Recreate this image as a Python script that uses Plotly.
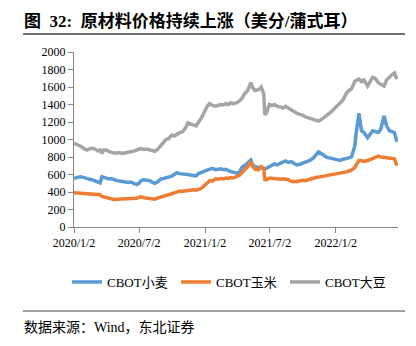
import plotly.graph_objects as go

dates = [
    "2020-01-02","2020-01-08","2020-01-15","2020-01-22",
    "2020-02-01","2020-02-08","2020-02-15","2020-02-22",
    "2020-03-01","2020-03-08","2020-03-15","2020-03-20","2020-03-25",
    "2020-04-01","2020-04-08","2020-04-15","2020-04-22",
    "2020-05-01","2020-05-08","2020-05-15","2020-05-22",
    "2020-06-01","2020-06-08","2020-06-15","2020-06-25",
    "2020-07-01","2020-07-08","2020-07-15","2020-07-22",
    "2020-08-01","2020-08-08","2020-08-15","2020-08-22",
    "2020-09-01","2020-09-08","2020-09-15","2020-09-22",
    "2020-10-01","2020-10-08","2020-10-15","2020-10-22",
    "2020-11-01","2020-11-08","2020-11-15","2020-11-22",
    "2020-12-01","2020-12-08","2020-12-15","2020-12-22",
    "2021-01-02","2021-01-08","2021-01-15","2021-01-22",
    "2021-02-01","2021-02-08","2021-02-15","2021-02-22",
    "2021-03-01","2021-03-08","2021-03-15","2021-03-22",
    "2021-04-01","2021-04-08","2021-04-15","2021-04-22",
    "2021-05-01","2021-05-10","2021-05-15","2021-05-22",
    "2021-06-01","2021-06-08","2021-06-15","2021-06-18","2021-06-22",
    "2021-07-01","2021-07-08","2021-07-15","2021-07-22",
    "2021-08-01","2021-08-08","2021-08-15","2021-08-22",
    "2021-09-01","2021-09-08","2021-09-15","2021-09-22",
    "2021-10-01","2021-10-08","2021-10-15","2021-10-22",
    "2021-11-01","2021-11-08","2021-11-15","2021-11-22",
    "2021-12-01","2021-12-08","2021-12-15","2021-12-22",
    "2022-01-02","2022-01-08","2022-01-15","2022-01-22",
    "2022-02-01","2022-02-08","2022-02-15","2022-02-24",
    "2022-03-01","2022-03-08","2022-03-15","2022-03-22",
    "2022-04-01","2022-04-08","2022-04-15","2022-04-22",
    "2022-05-01","2022-05-08","2022-05-17","2022-05-24",
    "2022-06-01","2022-06-08","2022-06-15","2022-06-22",
]

wheat = [
    556, 565, 570, 575,
    560, 550, 545, 540,
    525, 520, 505, 575, 570,
    560, 550, 555, 540,
    530, 525, 520, 515,
    510, 515, 500, 485,
    500, 530, 540, 535,
    530, 510, 500, 515,
    550, 555, 560, 570,
    580, 600, 620, 610,
    610, 605, 600, 595,
    590, 585, 610, 625,
    640, 650, 665, 670,
    655, 660, 665, 655,
    660, 645, 630, 625,
    615, 630, 680, 700,
    730, 765, 710, 690,
    680, 670, 660, 665, 670,
    690, 700, 720, 710,
    730, 745, 755, 740,
    745, 725, 710, 715,
    730, 740, 750, 760,
    790, 820, 860, 840,
    810, 795, 790, 785,
    770, 765, 760, 775,
    780, 790, 800, 920,
    1100, 1300, 1100, 1080,
    1020, 1060, 1100, 1090,
    1080, 1120, 1270, 1160,
    1100, 1090, 1080, 975,
]

corn = [
    392, 390, 388, 386,
    382, 384, 380, 378,
    375, 372, 370, 350, 345,
    335, 330, 325, 315,
    318, 320, 318, 320,
    322, 325, 330, 328,
    340, 345, 335, 330,
    320, 315, 318, 330,
    345, 355, 365, 370,
    380, 390, 400, 410,
    410, 415, 420, 425,
    425, 420, 430, 440,
    480, 500, 530, 525,
    550, 545, 555, 550,
    560, 555, 565, 560,
    580, 590, 620, 650,
    690, 745, 690, 660,
    655, 690, 670, 545, 540,
    560, 555, 550, 545,
    545, 550, 550, 540,
    520, 515, 520, 525,
    535, 530, 540, 545,
    560, 565, 570, 575,
    580, 585, 595, 600,
    610, 605, 620, 625,
    630, 640, 650, 680,
    710, 760, 760, 750,
    760, 770, 790, 800,
    810, 800, 795, 790,
    780, 785, 780, 700,
]

soy = [
    955, 945, 935, 920,
    890, 880, 895, 900,
    890, 870, 880, 840, 880,
    880, 865, 850, 845,
    845, 850, 840, 845,
    845, 860, 865, 880,
    890, 895, 885, 890,
    880, 870, 865, 885,
    930, 960, 1000, 1010,
    1050, 1040, 1060, 1075,
    1090, 1130, 1190, 1180,
    1160, 1155, 1200, 1240,
    1330, 1380, 1410, 1390,
    1380, 1390, 1400, 1395,
    1410, 1400, 1420, 1410,
    1420, 1440, 1470, 1520,
    1560, 1650, 1590, 1560,
    1570, 1600, 1520, 1280, 1300,
    1400, 1390, 1400, 1380,
    1370, 1360, 1380, 1360,
    1340, 1320, 1300, 1290,
    1280, 1260, 1250, 1240,
    1230, 1220, 1210, 1225,
    1250, 1270, 1290, 1320,
    1370, 1390, 1420, 1450,
    1530, 1560, 1580, 1660,
    1680, 1690, 1660, 1680,
    1610, 1660, 1710, 1700,
    1650, 1630, 1610, 1680,
    1720, 1740, 1760, 1690,
]

series_names = ["CBOT小麦", "CBOT玉米", "CBOT大豆"]
series_colors = ["#5B9BD5", "#ED7D31", "#A5A5A5"]

x_tickvals = ["2020-01-02", "2020-07-02", "2021-01-02", "2021-07-02", "2022-01-02"]
x_ticktext = ["2020/1/2", "2020/7/2", "2021/1/2", "2021/7/2", "2022/1/2"]
y_tickvals = list(range(0, 2001, 200))

FONT = "Liberation Serif, Times New Roman, Noto Sans CJK SC, serif"

fig = go.Figure()
for name, vals, col in zip(series_names, [wheat, corn, soy], series_colors):
    fig.add_trace(go.Scatter(x=dates, y=vals, mode="lines", name=name,
                             line=dict(color=col, width=3.5)))

fig.update_layout(
    width=416, height=346,
    margin=dict(l=74, r=18, t=52, b=119),
    paper_bgcolor="white", plot_bgcolor="white",
    font=dict(family=FONT, size=12, color="#000"),
    showlegend=True,
    legend=dict(orientation="h", xref="container", yref="container",
                x=67/416, xanchor="left", y=1-282/346, yanchor="middle",
                font=dict(family=FONT, size=13, color="#000"),
                itemwidth=30, entrywidth=64, traceorder="normal"),
)
fig.update_xaxes(type="date", range=["2020-01-02", "2022-06-25"],
                 tickvals=x_tickvals, ticktext=x_ticktext,
                 showline=True, linecolor="#868686", linewidth=1,
                 ticks="outside", ticklen=5, tickcolor="#868686",
                 showgrid=False, zeroline=False,
                 tickfont=dict(family=FONT, size=12, color="#000"))
fig.update_yaxes(range=[0, 2000], tickvals=y_tickvals,
                 showline=True, linecolor="#868686", linewidth=1,
                 ticks="outside", ticklen=5, tickcolor="#868686",
                 showgrid=False, zeroline=False,
                 tickfont=dict(family=FONT, size=12, color="#000"))

def px_x(p):
    return (p - 74) / 324.0

def px_y(p):
    return (227 - p) / 175.0

fig.add_shape(type="line", xref="paper", yref="paper",
              x0=px_x(23), x1=px_x(405), y0=px_y(34), y1=px_y(34),
              line=dict(color="#444", width=1.5))
fig.add_shape(type="line", xref="paper", yref="paper",
              x0=px_x(23), x1=px_x(405), y0=px_y(311), y1=px_y(311),
              line=dict(color="#444", width=1))

fig.add_annotation(xref="paper", yref="paper", x=px_x(22), y=px_y(21),
                   xanchor="left", yanchor="middle", showarrow=False,
                   text="<b>图  32:  原材料价格持续上涨（美分/蒲式耳）</b>",
                   font=dict(family=FONT, size=17, color="#000"))
fig.add_annotation(xref="paper", yref="paper", x=px_x(22), y=px_y(327),
                   xanchor="left", yanchor="middle", showarrow=False,
                   text="数据来源：Wind，东北证券",
                   font=dict(family=FONT, size=14, color="#000"))

fig.write_html("out.html")
